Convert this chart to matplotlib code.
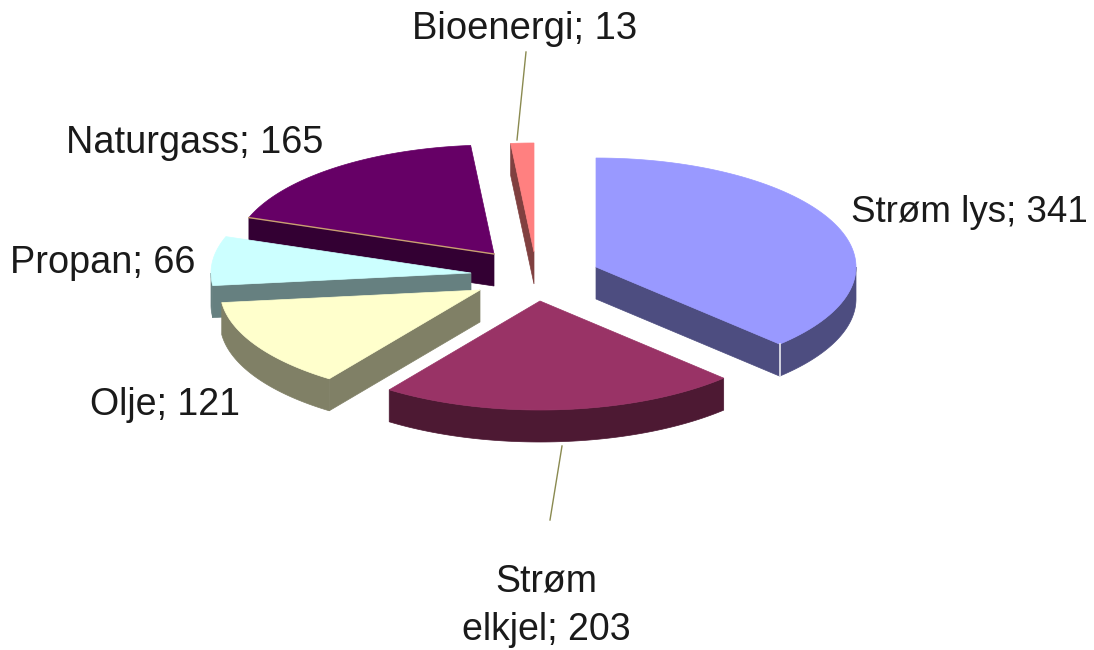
import numpy as np
import matplotlib
matplotlib.use("Agg")
import matplotlib.pyplot as plt

labels = ["Strøm lys", "Strøm\nelkjel", "Olje", "Propan", "Naturgass", "Bioenergi"]
values = [341, 203, 121, 66, 165, 13]

top_colors = ["#9999ff", "#993366", "#ffffcc", "#ccffff", "#660066", "#ff8080"]
side_colors = ["#4d4d80", "#4d1933", "#808066", "#668080", "#330033", "#804040"]

# apex of every exploded slice on the page, in pixels
apex_x = [596, 540, 480, 471, 494, 534]
apex_y = [267, 301, 290, 273, 254, 252]
label_x = [851, 546, 90, 10, 66, 412]
label_y = [212, 606, 405, 263, 143, 29]
label_ha = ["left", "center", "left", "left", "left", "left"]
label_size = [26.5, 27, 27, 27.3, 27.3, 27.5]

RX = 260
RY = 109
DEPTH = 32
draw_order = [5, 4, 3, 2, 0, 1]


def arc(i, a, b):
    t = np.radians(np.linspace(a, b, 80))
    return apex_x[i] + RX * np.sin(t), apex_y[i] - RY * np.cos(t)


def draw_slice(ax, i, a, b):
    # radial walls that face the viewer
    for ang, visible in [(a, np.sin(np.radians(a)) < 0), (b, np.sin(np.radians(b)) > 0)]:
        if visible:
            x, y = arc(i, ang, ang)
            ex, ey = x[0], y[0]
            ax.fill([apex_x[i], ex, ex, apex_x[i]],
                    [apex_y[i], ey, ey + DEPTH, apex_y[i] + DEPTH],
                    color=side_colors[i], lw=0.5)
    # outer wall, only the front half of the rim
    lo, hi = max(a, 90), min(b, 270)
    if lo < hi:
        x, y = arc(i, lo, hi)
        ax.fill(np.r_[x, x[::-1]], np.r_[y, y[::-1] + DEPTH], color=side_colors[i], lw=0.5)
    x, y = arc(i, a, b)
    ax.fill(np.r_[apex_x[i], x], np.r_[apex_y[i], y], color=top_colors[i], lw=0.5)


fig = plt.figure(figsize=(10.94, 6.5), dpi=100)
ax = fig.add_axes([0, 0, 1, 1])
ax.set_xlim(0, 1094)
ax.set_ylim(650, 0)
ax.axis("off")

edges = np.r_[0, np.cumsum(values)] / sum(values) * 360
for i in draw_order:
    draw_slice(ax, i, edges[i], edges[i + 1])

# small light seams seen in the original
x, y = arc(4, edges[4], edges[4])
ax.plot([x[0], apex_x[4]], [y[0], apex_y[4]], color="#c8a070", lw=1)
x, y = arc(0, edges[1], edges[1])
ax.plot([x[0], x[0]], [y[0], y[0] + DEPTH], color="#e8e8f0", lw=1.2)

# leader lines
ax.plot([526, 517], [52, 140], color="#8a8a50", lw=1)
ax.plot([562, 550], [446, 520], color="#8a8a50", lw=1)

for i, name in enumerate(labels):
    ax.text(label_x[i], label_y[i], f"{name}; {values[i]}", ha=label_ha[i], va="center",
            family="Liberation Sans", fontsize=label_size[i], color="#1a1a1a", linespacing=1.43)

fig.savefig("out.png", dpi=100)
